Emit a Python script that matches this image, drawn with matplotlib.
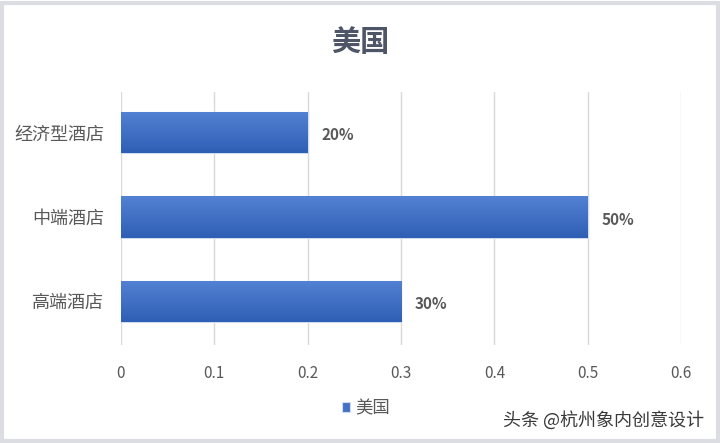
import numpy as np
import matplotlib.pyplot as plt
from matplotlib.patches import Rectangle
from matplotlib.colors import LinearSegmentedColormap

plt.rcParams['font.family'] = ['Noto Sans CJK SC', 'DejaVu Sans']

# data
categories = ['高端酒店', '中端酒店', '经济型酒店']
values = [0.3, 0.5, 0.2]
value_labels = ['30%', '50%', '20%']
series_name = '美国'
xticks = [0, 0.1, 0.2, 0.3, 0.4, 0.5, 0.6]

text_color = '#595959'
bar_color = '#4472C4'

fig = plt.figure(figsize=(7.2, 4.43), dpi=100)
fig.patch.set_facecolor('white')
# light frame around the picture
fig.patches.append(Rectangle((0.003, 0.004), 0.994, 0.99, transform=fig.transFigure,
                             fill=False, edgecolor='#dcdde3', linewidth=3))

ax = fig.add_axes([0.168, 0.221, 0.778, 0.571])
y = np.arange(len(categories))
bars = ax.barh(y, values, height=0.49, color=bar_color, label=series_name, zorder=2)

# vertical gradient inside each bar (lighter on top)
grad = np.linspace(0, 1, 64).reshape(-1, 1)
cmap = LinearSegmentedColormap.from_list('g', ['#5381d3', '#2f5fb5'])
for b in bars:
    x0, y0 = b.get_x(), b.get_y()
    w, h = b.get_width(), b.get_height()
    im = ax.imshow(grad, extent=(x0, x0 + w, y0, y0 + h), cmap=cmap,
                   aspect='auto', zorder=3)
    im.set_clip_path(b)
    b.set_edgecolor('#d0daf0')
    b.set_linewidth(0.8)

for v, lab, yy in zip(values, value_labels, y):
    ax.annotate(lab, (v, yy), xytext=(10, -2), textcoords='offset points',
                va='center', ha='left', fontsize=11, fontweight='semibold', color=text_color)

ax.set_xlim(0, 0.6)
ax.set_ylim(-0.52, 2.48)
ax.set_xticks(xticks)
ax.set_xticklabels([f'{t:g}' for t in xticks])
ax.set_yticks(y)
ax.set_yticklabels(categories)
ax.tick_params(axis='x', length=0, labelsize=11, labelcolor=text_color, pad=14)
ax.tick_params(axis='y', length=0, labelsize=13, labelcolor=text_color, pad=12)
ax.grid(axis='x', color='#d9d9d9', linewidth=1, zorder=0)
for s in ax.spines.values():
    s.set_visible(False)

fig.text(0.5, 0.905, series_name, ha='center', va='center', fontsize=21,
         fontweight='bold', color='#4d5566')

ax.legend(loc='center', bbox_to_anchor=(0.437, -0.25),
          frameon=False, fontsize=12.5, handlelength=0.45, handleheight=0.45,
          handletextpad=0.3, labelcolor=text_color)

fig.text(0.978, 0.052, '头条 @杭州象内创意设计', ha='right', va='center',
         fontsize=13, color='#3a3a3a')

fig.savefig('out.png', dpi=100)
